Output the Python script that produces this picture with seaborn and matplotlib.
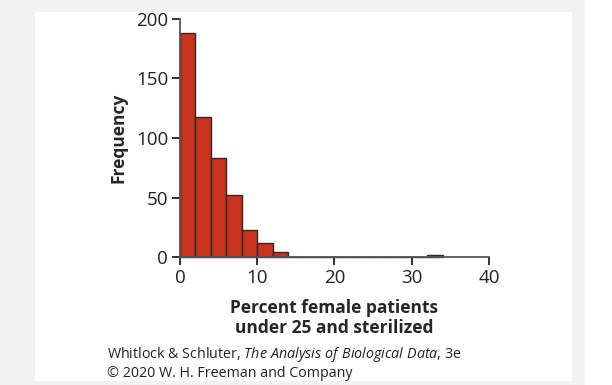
import numpy as np
import matplotlib
matplotlib.use("Agg")
import matplotlib.pyplot as plt
from matplotlib.patches import Rectangle
import seaborn as sns

# histogram data (bin width 2)
bin_edges = [0, 2, 4, 6, 8, 10, 12, 14, 16, 18, 20, 22, 24, 26, 28, 30, 32, 34]
counts = [188, 118, 83, 52, 23, 12, 4, 0, 0, 0, 0, 0, 0, 0, 0, 0, 2]
x_ticks = [0, 10, 20, 30, 40]
y_ticks = [0, 50, 100, 150, 200]

centers = [(a + b) / 2 for a, b in zip(bin_edges[:-1], bin_edges[1:])]

sns.set_style("ticks")
plt.rcParams["font.family"] = ["Open Sans", "DejaVu Sans"]
plt.rcParams["mathtext.fontset"] = "custom"
plt.rcParams["mathtext.rm"] = "Open Sans"
plt.rcParams["mathtext.it"] = "Open Sans:italic"

fig = plt.figure(figsize=(6.12, 3.85), dpi=100)

# grey page frame with a white panel
fig.patches.append(Rectangle((0, 0), 585 / 612, 1, transform=fig.transFigure,
                             facecolor="#f2f2f2", edgecolor="none", zorder=-10))
fig.patches.append(Rectangle((35 / 612, 4 / 385), 537 / 612, 369 / 385,
                             transform=fig.transFigure, facecolor="white",
                             edgecolor="none", zorder=-9))

ax = fig.add_axes([0.294, 0.332, 0.505, 0.619])
ax.patch.set_visible(False)

sns.histplot(x=centers, weights=counts, bins=bin_edges, ax=ax,
             color="#c8321e", alpha=1, edgecolor="#2a2a2a", linewidth=1.0)

ax.set_xlim(0, 40)
ax.set_ylim(0, 200)
ax.set_xticks(x_ticks)
ax.set_yticks(y_ticks)
ax.tick_params(labelsize=13.5, colors="#222222", length=6, width=1.3, pad=2.5)
for s in ["top", "right"]:
    ax.spines[s].set_visible(False)
for s in ["left", "bottom"]:
    ax.spines[s].set_color("#555555")
    ax.spines[s].set_linewidth(1.3)
for p in ax.patches:
    p.set_clip_on(False)

ax.set_ylabel("Frequency", fontsize=12.5, fontweight="bold", labelpad=6)
ax.set_xlabel("Percent female patients\nunder 25 and sterilized",
              fontsize=12.5, fontweight="bold", labelpad=9, linespacing=1.1)

fig.text(0.175, 0.069, "Whitlock & Schluter, $\\it{The\\ Analysis\\ of\\ Biological\\ Data}$, 3e",
         fontsize=10.3, color="#222222")
fig.text(0.175, 0.021, "\u00a9 2020 W. H. Freeman and Company", fontsize=10.3, color="#222222")

fig.savefig("out.png", dpi=100)
